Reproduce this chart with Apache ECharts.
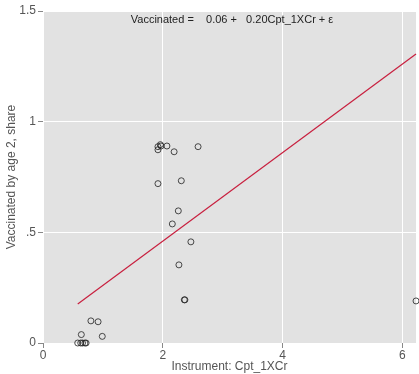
<!DOCTYPE html>
<html>
<head>
<meta charset="utf-8">
<script src="https://cdn.jsdelivr.net/npm/echarts@6/dist/echarts.min.js"></script>
<style>
  html, body { margin: 0; padding: 0; background: #fff; }
  #chartMain { width: 419px; height: 374px; }
</style>
</head>
<body>
<div id="chartMain"></div>
<script>
// instrument values (x) and vaccination share (y)
var instrument = [0.58, 0.63, 0.66, 0.70, 0.72, 0.64, 0.80, 0.92, 0.99,
                  1.92, 1.96, 1.97, 2.07, 1.92, 2.19, 2.59, 1.92, 2.31,
                  2.26, 2.16, 2.47, 2.27, 2.36, 2.37, 6.23];
var vaccShare  = [0.00, 0.00, 0.00, 0.00, 0.00, 0.038, 0.10, 0.096, 0.03,
                  0.887, 0.896, 0.89, 0.89, 0.873, 0.864, 0.887, 0.72, 0.733,
                  0.597, 0.538, 0.457, 0.353, 0.195, 0.195, 0.19];
// fitted line
var fitIntercept = 0.06;
var fitSlope = 0.20;
var fitRange = [0.58, 6.23];
var xTicks = [0, 2, 4, 6];

var points = instrument.map(function(x, i) { return [x, vaccShare[i]]; });
var fitLine = fitRange.map(function(x) { return [x, fitIntercept + fitSlope * x]; });

var myChart = echarts.init(document.getElementById('chartMain'));

var axisText = { color: '#555', fontSize: 12, fontFamily: 'Liberation Sans, Arial, sans-serif' };

option = {
    animation: false,
    title: {
        text: 'Vaccinated =    0.06 +   0.20Cpt_1XCr + ε',
        left: 227, top: 9,
        textAlign: 'center',
        textStyle: { color: '#222', fontSize: 11, fontWeight: 'normal', fontFamily: 'Liberation Sans, Arial, sans-serif' }
    },
    grid: {
        left: 43, right: 3, top: 11, bottom: 31,
        outerBoundsMode: 'none', containLabel: false,
        show: true, backgroundColor: '#e2e2e2', borderWidth: 0
    },
    xAxis: {
        type: 'value', min: 0, max: 6.23, interval: 2,
        name: 'Instrument: Cpt_1XCr', nameLocation: 'middle', nameGap: 18,
        nameMoveOverlap: false,
        nameTextStyle: axisText,
        axisLine: { show: false },
        axisTick: { show: true, length: 5, customValues: xTicks, lineStyle: { color: '#888' } },
        axisLabel: Object.assign({ customValues: xTicks, margin: 7 }, axisText),
        splitLine: { show: true, lineStyle: { color: '#fff', width: 1 } }
    },
    yAxis: {
        type: 'value', min: 0, max: 1.5, interval: 0.5,
        name: 'Vaccinated by age 2, share', nameLocation: 'middle', nameGap: 25,
        nameMoveOverlap: false,
        nameTextStyle: axisText,
        axisLine: { show: false },
        axisTick: { show: true, length: 5, lineStyle: { color: '#888' } },
        axisLabel: Object.assign({
            margin: 7,
            formatter: function(v) { return v === 0.5 ? '.5' : String(v); }
        }, axisText),
        splitLine: { show: true, lineStyle: { color: '#fff', width: 1 } }
    },
    series: [
        {
            type: 'line',
            data: fitLine,
            symbol: 'none',
            lineStyle: { color: '#c8203f', width: 1.2 },
            z: 2
        },
        {
            type: 'scatter',
            data: points,
            symbol: 'circle',
            symbolSize: 6,
            clip: false,
            itemStyle: { color: 'rgba(0,0,0,0)', borderColor: '#222', borderWidth: 1 },
            z: 3
        }
    ]
};

myChart.setOption(option);
</script>
</body>
</html>
